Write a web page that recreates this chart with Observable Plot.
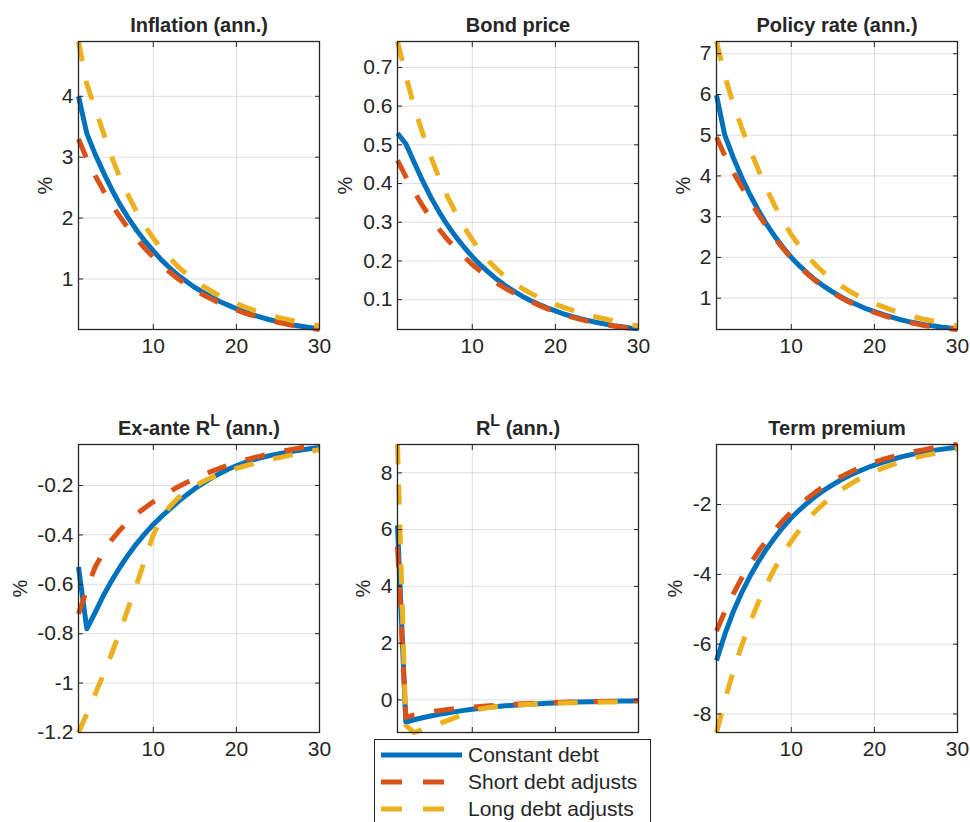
<!DOCTYPE html>
<html><head><meta charset="utf-8">
<script src="https://cdn.jsdelivr.net/npm/d3@7"></script>
<script src="https://cdn.jsdelivr.net/npm/@observablehq/plot@0.6"></script>
<style>
html,body{margin:0;padding:0;background:#fff;}
#wrap{position:relative;width:970px;height:822px;overflow:hidden;background:#fff;font-family:"Liberation Sans",Arial,Helvetica,sans-serif;color:#262626;}
.panel{position:absolute;}
#legend{position:absolute;left:374px;top:739px;width:277px;height:110px;border:1px solid #262626;background:#fff;box-sizing:border-box;}
.lrow{position:absolute;left:6px;height:26px;display:flex;align-items:center;font-size:21px;white-space:nowrap;}
.lrow svg{display:block;margin-right:6px;}
</style></head><body><div id="wrap"></div>
<script>
// ---------- data ----------
const periods = [1,2,3,4,5,6,7,8,9,10,11,12,13,14,15,16,17,18,19,20,21,22,23,24,25,26,27,28,29,30];
const seriesNames = ["Constant debt", "Short debt adjusts", "Long debt adjusts"];
const xTicks = [10, 20, 30];

const titles = ["Inflation (ann.)", "Bond price", "Policy rate (ann.)", "Ex-ante R^L (ann.)", "R^L (ann.)", "Term premium"];

const inflTicks = [1, 2, 3, 4];
const inflConst = [4.00,3.39,3.05,2.75,2.47,2.22,2.00,1.80,1.62,1.46,1.31,1.18,1.06,0.96,0.86,0.78,0.70,0.63,0.57,0.51,0.46,0.41,0.37,0.33,0.30,0.27,0.24,0.22,0.20,0.18];
const inflShort = [3.30,2.97,2.70,2.45,2.22,2.02,1.83,1.66,1.50,1.36,1.23,1.11,1.00,0.91,0.82,0.74,0.67,0.60,0.54,0.49,0.44,0.40,0.36,0.32,0.29,0.26,0.23,0.21,0.19,0.17];
const inflLong  = [4.90,4.20,3.80,3.40,3.00,2.66,2.37,2.10,1.87,1.67,1.49,1.34,1.20,1.08,0.98,0.88,0.80,0.72,0.66,0.60,0.54,0.49,0.45,0.41,0.37,0.34,0.31,0.28,0.25,0.23];

const bondTicks = [0.1, 0.2, 0.3, 0.4, 0.5, 0.6, 0.7];
const bondConst = [0.530,0.503,0.455,0.408,0.365,0.327,0.293,0.263,0.236,0.211,0.189,0.170,0.152,0.136,0.122,0.109,0.098,0.088,0.079,0.071,0.063,0.057,0.051,0.046,0.041,0.037,0.033,0.030,0.027,0.025];
const bondShort = [0.460,0.418,0.379,0.343,0.311,0.282,0.256,0.232,0.211,0.191,0.173,0.157,0.142,0.129,0.117,0.106,0.096,0.086,0.077,0.068,0.061,0.055,0.049,0.044,0.040,0.036,0.032,0.029,0.026,0.023];
const bondLong  = [0.767,0.680,0.598,0.532,0.470,0.415,0.367,0.325,0.288,0.255,0.225,0.199,0.178,0.159,0.143,0.129,0.117,0.106,0.097,0.088,0.080,0.073,0.066,0.060,0.055,0.050,0.045,0.041,0.036,0.032];

const polTicks = [1, 2, 3, 4, 5, 6, 7];
const polConst = [5.98,5.00,4.46,3.98,3.55,3.17,2.82,2.52,2.25,2.00,1.79,1.60,1.43,1.28,1.15,1.03,0.92,0.83,0.74,0.67,0.60,0.54,0.48,0.43,0.39,0.35,0.32,0.29,0.27,0.25];
const polShort = [4.95,4.50,4.10,3.74,3.40,3.07,2.76,2.48,2.22,1.98,1.77,1.58,1.41,1.26,1.13,1.01,0.90,0.81,0.72,0.65,0.58,0.52,0.46,0.41,0.37,0.33,0.30,0.27,0.25,0.23];
const polLong  = [7.30,6.45,5.78,5.20,4.66,4.17,3.70,3.27,2.90,2.56,2.27,2.02,1.80,1.61,1.44,1.30,1.17,1.06,0.96,0.87,0.79,0.71,0.65,0.59,0.53,0.48,0.44,0.40,0.36,0.32];

const exTicks = [-1.2, -1, -0.8, -0.6, -0.4, -0.2];
const exConst = [-0.53,-0.78,-0.715,-0.645,-0.585,-0.53,-0.48,-0.435,-0.395,-0.358,-0.325,-0.295,-0.265,-0.238,-0.213,-0.191,-0.170,-0.151,-0.134,-0.120,-0.107,-0.096,-0.087,-0.079,-0.072,-0.066,-0.060,-0.055,-0.050,-0.046];
const exShort = [-0.72,-0.62,-0.53,-0.47,-0.42,-0.38,-0.345,-0.315,-0.29,-0.266,-0.244,-0.224,-0.205,-0.188,-0.172,-0.157,-0.143,-0.130,-0.118,-0.107,-0.097,-0.088,-0.080,-0.072,-0.065,-0.058,-0.052,-0.046,-0.040,-0.034];
const exLong  = [-1.20,-1.125,-1.045,-0.965,-0.88,-0.79,-0.695,-0.60,-0.50,-0.40,-0.33,-0.285,-0.25,-0.225,-0.203,-0.184,-0.168,-0.154,-0.142,-0.131,-0.121,-0.112,-0.103,-0.095,-0.088,-0.081,-0.074,-0.067,-0.061,-0.055];

const rlTicks = [0, 2, 4, 6, 8];
const rlConst = [6.15,-0.78,-0.70,-0.63,-0.57,-0.51,-0.46,-0.415,-0.37,-0.33,-0.295,-0.263,-0.235,-0.21,-0.188,-0.168,-0.150,-0.134,-0.120,-0.107,-0.096,-0.086,-0.077,-0.069,-0.062,-0.055,-0.049,-0.044,-0.039,-0.035];
const rlShort = [5.40,-0.62,-0.53,-0.47,-0.42,-0.38,-0.34,-0.31,-0.28,-0.255,-0.23,-0.21,-0.19,-0.17,-0.155,-0.14,-0.127,-0.115,-0.104,-0.094,-0.085,-0.077,-0.069,-0.062,-0.056,-0.050,-0.045,-0.040,-0.035,-0.031];
const rlLong  = [9.00,-0.90,-1.15,-1.05,-0.95,-0.84,-0.73,-0.62,-0.51,-0.40,-0.32,-0.27,-0.235,-0.21,-0.188,-0.17,-0.155,-0.142,-0.131,-0.121,-0.112,-0.104,-0.096,-0.089,-0.083,-0.077,-0.071,-0.065,-0.060,-0.055];

const tpTicks = [-8, -6, -4, -2];
const tpConst = [-6.47,-5.72,-5.08,-4.54,-4.07,-3.65,-3.28,-2.95,-2.65,-2.38,-2.15,-1.94,-1.75,-1.58,-1.43,-1.29,-1.17,-1.06,-0.96,-0.87,-0.79,-0.72,-0.65,-0.59,-0.54,-0.49,-0.45,-0.42,-0.39,-0.36];
const tpShort = [-5.62,-5.07,-4.57,-4.12,-3.72,-3.36,-3.03,-2.73,-2.46,-2.22,-2.00,-1.81,-1.63,-1.47,-1.33,-1.20,-1.08,-0.97,-0.88,-0.79,-0.71,-0.64,-0.58,-0.52,-0.47,-0.43,-0.38,-0.35,-0.31,-0.28];
const tpLong  = [-8.53,-7.61,-6.79,-6.06,-5.40,-4.82,-4.30,-3.83,-3.42,-3.05,-2.72,-2.43,-2.17,-1.95,-1.75,-1.58,-1.43,-1.29,-1.17,-1.06,-0.96,-0.87,-0.79,-0.72,-0.65,-0.60,-0.55,-0.50,-0.45,-0.41];

// ---------- styles & layout ----------
const colors = ["#0072BD", "#D95319", "#EDB120"];
const dashes = [null, "20,20", "20,20"];
const FONT = '"Liberation Sans", Arial, Helvetica, sans-serif';
const W = 241, H = 288;
const mL = 80, mR = 30, mT = 50, mB = 40;
const layout = [
  {left: 78,  top: 41,  labelOffset: 33, xLabels: true},
  {left: 397, top: 41,  labelOffset: 52, xLabels: true},
  {left: 716, top: 41,  labelOffset: 33, xLabels: true},
  {left: 78,  top: 444, labelOffset: 58, xLabels: true},
  {left: 397, top: 444, labelOffset: 34, xLabels: false},
  {left: 716, top: 444, labelOffset: 41, xLabels: true}
];

const panels = [
  {series: [inflConst, inflShort, inflLong], yTicks: inflTicks},
  {series: [bondConst, bondShort, bondLong], yTicks: bondTicks},
  {series: [polConst, polShort, polLong], yTicks: polTicks},
  {series: [exConst, exShort, exLong], yTicks: exTicks},
  {series: [rlConst, rlShort, rlLong], yTicks: rlTicks},
  {series: [tpConst, tpShort, tpLong], yTicks: tpTicks}
];

const wrap = document.getElementById("wrap");
const fmt = d => String(d);

panels.forEach((p, i) => {
  const L = layout[i];
  const rows = [];
  seriesNames.forEach((s, k) => p.series[k].forEach((v, j) => rows.push({x: periods[j], y: v, s, k})));
  const chart = Plot.plot({
    width: W + mL + mR, height: H + mT + mB,
    marginLeft: mL, marginRight: mR, marginTop: mT, marginBottom: mB,
    style: {background: "transparent", overflow: "visible", fontFamily: FONT, fontSize: "20px", color: "#262626"},
    x: {domain: [1, 30], ticks: xTicks, tickFormat: fmt},
    y: {domain: d3.extent(rows, d => d.y), ticks: p.yTicks, tickFormat: fmt},
    marks: [
      Plot.gridX(xTicks, {stroke: "#262626", strokeOpacity: 0.15}),
      Plot.gridY(p.yTicks, {stroke: "#262626", strokeOpacity: 0.15}),
      ...seriesNames.map((s, k) => Plot.line(rows.filter(r => r.k === k), {
        x: "x", y: "y", stroke: colors[k], strokeWidth: 5,
        strokeDasharray: dashes[k], strokeLinecap: "butt", strokeLinejoin: "round"
      })),
      Plot.frame({stroke: "#262626", strokeWidth: 1.3}),
      L.xLabels ? Plot.axisX(xTicks, {anchor: "bottom", tickSize: 0, tickPadding: 9, label: null, fontSize: 21, tickFormat: fmt}) : null,
      Plot.axisX(xTicks, {anchor: "bottom", tickSize: -5, fill: "none", label: null}),
      Plot.axisX(xTicks, {anchor: "top", tickSize: -5, fill: "none", label: null}),
      Plot.axisY(p.yTicks, {anchor: "left", tickSize: 0, tickPadding: 5, label: null, fontSize: 21, tickFormat: fmt}),
      Plot.axisY(p.yTicks, {anchor: "left", tickSize: -5, fill: "none", label: null}),
      Plot.axisY(p.yTicks, {anchor: "right", tickSize: -5, fill: "none", label: null}),
      Plot.text([titles[i]], {frameAnchor: "top", lineAnchor: "bottom", textAnchor: "middle", dy: -10,
        fontWeight: "bold", fontSize: 20, text: d => d}),
      Plot.text(["%"], {frameAnchor: "left", rotate: -90, dx: -L.labelOffset, lineAnchor: "middle",
        textAnchor: "middle", fontSize: 20, text: d => d})
    ]
  });
  // superscripts like R^L
  d3.select(chart).selectAll("text").each(function() {
    const t = this.textContent;
    if (!t.includes("^")) return;
    const m = t.match(/^(.*?)\^(\w)(.*)$/);
    if (!m) return;
    const sel = d3.select(this);
    sel.text(null);
    sel.append("tspan").text(m[1]);
    sel.append("tspan").attr("dy", -9).attr("font-size", 16).text(m[2]);
    sel.append("tspan").attr("dy", 9).text(m[3]);
  });
  chart.classList.add("panel");
  chart.style.position = "absolute";
  chart.style.left = (L.left - mL) + "px";
  chart.style.top = (L.top - mT) + "px";
  wrap.appendChild(chart);
});

// ---------- legend ----------
const legend = document.createElement("div");
legend.id = "legend";
const rowCenters = [15, 42, 69];
seriesNames.forEach((s, k) => {
  const row = document.createElement("div");
  row.className = "lrow";
  row.style.top = (rowCenters[k] - 13) + "px";
  const svg = d3.create("svg").attr("width", 81).attr("height", 10);
  svg.append("line").attr("x1", 0).attr("x2", 81).attr("y1", 5).attr("y2", 5)
    .attr("stroke", colors[k]).attr("stroke-width", 5)
    .attr("stroke-dasharray", dashes[k] ? "21,21" : null);
  row.appendChild(svg.node());
  const span = document.createElement("span");
  span.textContent = s;
  row.appendChild(span);
  legend.appendChild(row);
});
wrap.appendChild(legend);
</script>
</body></html>
